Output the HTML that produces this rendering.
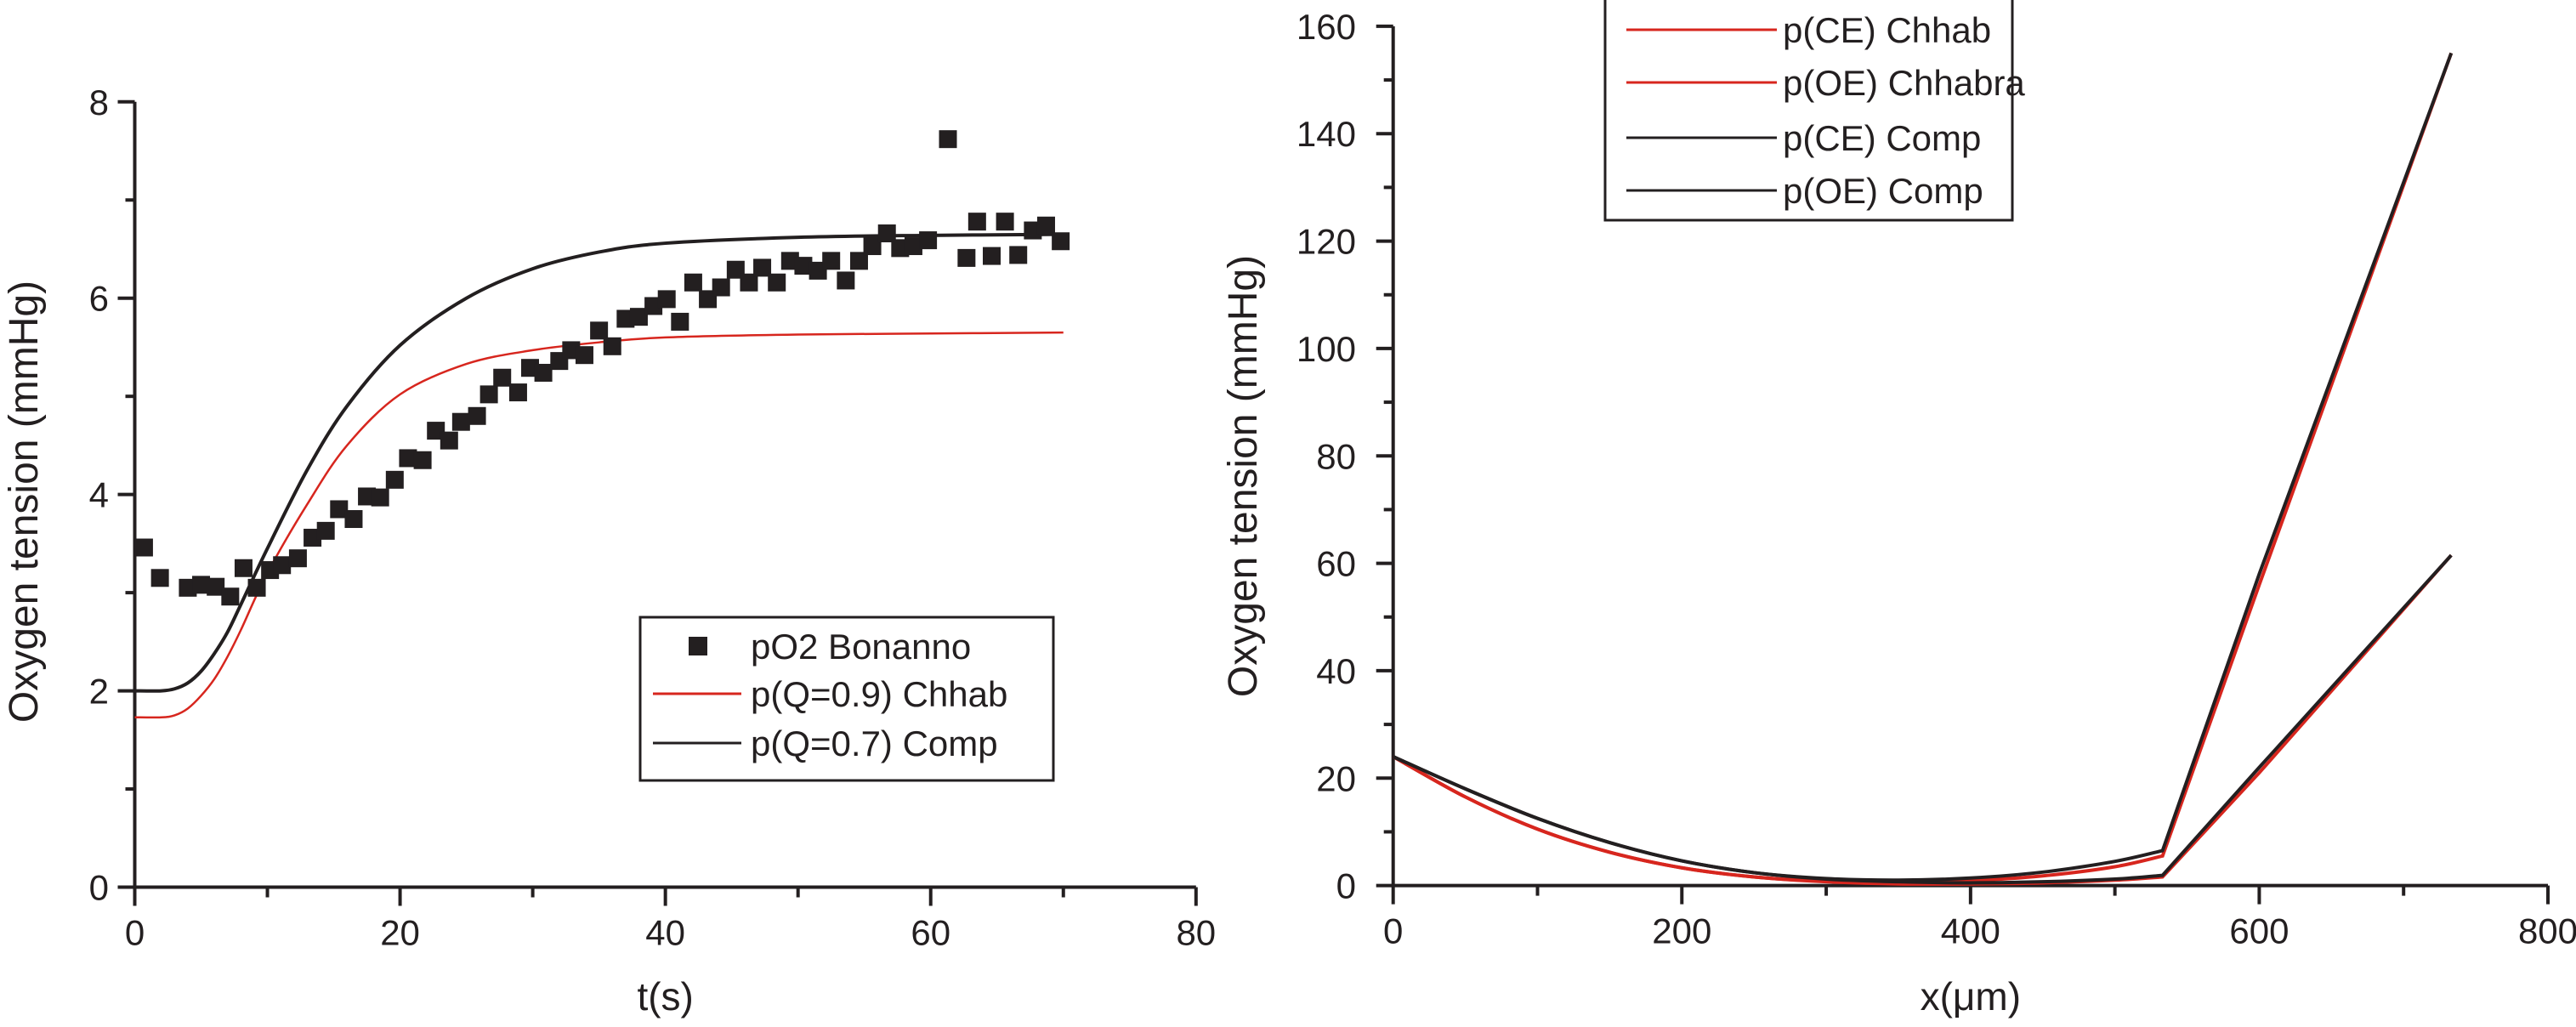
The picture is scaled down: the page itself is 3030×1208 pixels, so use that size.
<!DOCTYPE html>
<html><head><meta charset="utf-8"><style>
html,body{margin:0;padding:0;background:#fff}
svg{display:block}
text{font-family:"Liberation Sans",sans-serif;fill:#231f20}
</style></head><body>
<svg id="fig" width="3030" height="1208" viewBox="0 0 3030 1208" xmlns="http://www.w3.org/2000/svg">
<g id="left"></g>
<g id="right"></g>
</svg>
<script>
// ---- Left chart data ----
const leftXTicks = [0, 20, 40, 60, 80];
const leftYTicks = [0, 2, 4, 6, 8];
const bonT = [0.7,1.9,4.0,5.0,6.1,7.2,8.2,9.2,10.2,11.1,12.3,13.4,14.4,15.4,16.5,17.5,18.5,19.6,20.6,21.7,22.7,23.7,24.6,25.8,26.7,27.7,28.9,29.8,30.8,32.0,32.9,33.9,35.0,36.0,37.0,38.0,39.1,40.1,41.1,42.1,43.2,44.2,45.3,46.3,47.3,48.4,49.4,50.4,51.5,52.5,53.6,54.6,55.6,56.7,57.7,58.7,59.8,61.3,62.7,63.5,64.6,65.6,66.6,67.7,68.7,69.8];
const bonP = [3.46,3.15,3.05,3.08,3.06,2.96,3.25,3.05,3.23,3.28,3.35,3.56,3.63,3.85,3.75,3.98,3.97,4.15,4.37,4.35,4.65,4.55,4.74,4.80,5.02,5.19,5.04,5.29,5.24,5.36,5.47,5.42,5.67,5.51,5.79,5.81,5.92,5.99,5.76,6.16,5.99,6.11,6.29,6.16,6.31,6.16,6.38,6.33,6.28,6.38,6.18,6.38,6.53,6.66,6.51,6.53,6.59,7.62,6.41,6.78,6.43,6.78,6.44,6.69,6.74,6.58];
const compT = [0,2,3,4,5,6,7,8,10,13,16,20,25,30,35,40,50,60,70];
const compP = [2.0,2.0,2.02,2.08,2.2,2.38,2.6,2.88,3.45,4.25,4.9,5.52,6.0,6.3,6.47,6.56,6.62,6.64,6.65];
const chhT = [0,2,3,4,5,6,7,8,10,13,16,20,25,30,35,40,50,60,70];
const chhP = [1.73,1.73,1.75,1.82,1.95,2.12,2.35,2.62,3.2,3.9,4.5,5.02,5.33,5.47,5.55,5.6,5.63,5.64,5.65];

// ---- Right chart data ----
const rightXTicks = [0, 200, 400, 600, 800];
const rightYTicks = [0, 20, 40, 60, 80, 100, 120, 140, 160];
const ceChX = [0,50,100,150,200,250,300,350,400,450,500,533,600,733];
const ceChY = [24,16.5,10.5,6.2,3.3,1.6,0.8,0.6,0.9,1.8,3.5,5.5,56,155];
const oeChX = [0,50,100,150,200,250,300,350,400,450,500,533,600,733];
const oeChY = [24,16.5,10.5,6.2,3.3,1.6,0.7,0.3,0.3,0.5,1.0,1.6,21,61.5];
const ceCoX = [0,50,100,150,200,250,300,350,400,450,500,533,600,733];
const ceCoY = [24,18,12.5,8,4.6,2.4,1.3,1.0,1.4,2.5,4.5,6.5,58,155];
const oeCoX = [0,50,100,150,200,250,300,350,400,450,500,533,600,733];
const oeCoY = [24,18,12.5,8,4.6,2.4,1.2,0.7,0.5,0.7,1.2,1.9,22,61.5];

const NS = 'http://www.w3.org/2000/svg';
function mk(parent, tag, attrs, txt){
  const e = document.createElementNS(NS, tag);
  for (const k in attrs) e.setAttribute(k, attrs[k]);
  if (txt !== undefined) e.textContent = txt;
  parent.appendChild(e); return e;
}
function smoothPath(pts){
  let d = 'M' + pts[0][0] + ',' + pts[0][1];
  for (let i = 0; i < pts.length - 1; i++){
    const p0 = pts[i-1] || pts[i], p1 = pts[i], p2 = pts[i+1], p3 = pts[i+2] || p2;
    const c1 = [p1[0] + (p2[0]-p0[0])/6, p1[1] + (p2[1]-p0[1])/6];
    const c2 = [p2[0] - (p3[0]-p1[0])/6, p2[1] - (p3[1]-p1[1])/6];
    d += 'C' + c1 + ' ' + c2 + ' ' + p2;
  }
  return d;
}
function axes(g, X, Y, x0, x1, y0, y1, xt, yt, yLabX){
  const ax = mk(g, 'path', {d:'M'+X(x0)+','+Y(y1)+'V'+Y(y0)+'H'+X(x1), fill:'none', stroke:'#231f20','stroke-width':4});
  
  
  xt.forEach((v,i)=>{
    mk(g,'line',{x1:X(v),x2:X(v),y1:Y(y0),y2:Y(y0)+22,stroke:'#231f20','stroke-width':4});
    if (i < xt.length-1){ const m=(v+xt[i+1])/2; mk(g,'line',{x1:X(m),x2:X(m),y1:Y(y0),y2:Y(y0)+12,stroke:'#231f20','stroke-width':4}); }
    const t = mk(g,'text',{x:X(v),y:Y(y0)+68,'font-size':42,'text-anchor':'middle'}, String(v));
    
    
  });
  yt.forEach((v,i)=>{
    mk(g,'line',{x1:X(x0)-20,x2:X(x0),y1:Y(v),y2:Y(v),stroke:'#231f20','stroke-width':4});
    if (i < yt.length-1){ const m=(v+yt[i+1])/2; mk(g,'line',{x1:X(x0)-11,x2:X(x0),y1:Y(m),y2:Y(m),stroke:'#231f20','stroke-width':4}); }
    const t = mk(g,'text',{x:yLabX,y:Y(v)+15,'font-size':42,'text-anchor':'end'}, String(v));
    
    
  });
}

// ---- Left chart ----
(function(){
  const g = document.getElementById('left');
  const X = t => 158.5 + t*(1406.8-158.5)/80;
  const Y = p => 1043.5 - p*(1043.5-119.8)/8;
  axes(g, X, Y, 0, 80, 0, 8, leftXTicks, leftYTicks, 128);
  const tt = mk(g,'text',{x:X(40),y:1188,'font-size':46,'text-anchor':'middle'},'t(s)');
   
  const yt = mk(g,'text',{x:0,y:0,'font-size':48,'text-anchor':'middle',transform:'translate(44,590) rotate(-90)'},'Oxygen tension (mmHg)');
   
  const cb = mk(g,'path',{d:smoothPath(compT.map((t,i)=>[X(t),Y(compP[i])])),fill:'none',stroke:'#231f20','stroke-width':4});
   
  const cr = mk(g,'path',{d:smoothPath(chhT.map((t,i)=>[X(t),Y(chhP[i])])),fill:'none',stroke:'#d7261e','stroke-width':2.5});
   
  bonT.forEach((t,i)=>{
    const r = mk(g,'rect',{x:X(t)-10.5,y:Y(bonP[i])-10.5,width:21,height:21,fill:'#231f20'});
    
    
  });
  const lg = mk(g,'g',{});
   
  mk(lg,'rect',{x:753,y:726,width:486,height:192,fill:'#fff',stroke:'#231f20','stroke-width':3});
  mk(lg,'rect',{x:810,y:749,width:22,height:22,fill:'#231f20'});
  mk(lg,'text',{x:883,y:775,'font-size':42},'pO2 Bonanno');
  mk(lg,'line',{x1:768,x2:872,y1:816,y2:816,stroke:'#d7261e','stroke-width':3});
  mk(lg,'text',{x:883,y:831,'font-size':42},'p(Q=0.9) Chhab');
  mk(lg,'line',{x1:768,x2:872,y1:874,y2:874,stroke:'#231f20','stroke-width':3});
  mk(lg,'text',{x:883,y:889,'font-size':42},'p(Q=0.7) Comp');
})();

// ---- Right chart ----
(function(){
  const g = document.getElementById('right');
  const X = x => 1638.7 + x*(2997-1638.7)/800;
  const Y = p => 1041.6 - p*(1041.6-30.9)/160;
  axes(g, X, Y, 0, 800, 0, 160, rightXTicks, rightYTicks, 1595);
  const tt = mk(g,'text',{x:X(400),y:1188,'font-size':46,'text-anchor':'middle'},'x(\u03bcm)');
   
  const yt = mk(g,'text',{x:0,y:0,'font-size':48,'text-anchor':'middle',transform:'translate(1478,560) rotate(-90)'},'Oxygen tension (mmHg)');
   
  const series = [[oeChX,oeChY,'#d7261e','oe-chhabra-line'],[ceChX,ceChY,'#d7261e','ce-chhab-line'],[oeCoX,oeCoY,'#231f20','oe-comp-line'],[ceCoX,ceCoY,'#231f20','ce-comp-line']];
  series.forEach(s=>{
    const xs=s[0], ys=s[1];
    const smooth = smoothPath(xs.slice(0,12).map((x,i)=>[X(x),Y(ys[i])]));
    const d = smooth + 'L' + X(xs[12]) + ',' + Y(ys[12]) + 'L' + X(xs[13]) + ',' + Y(ys[13]);
    const p = mk(g,'path',{d:d,fill:'none',stroke:s[2],'stroke-width':4});
    
    
  });
  const lg = mk(g,'g',{});
   
  mk(lg,'rect',{x:1888,y:-2,width:479,height:261,fill:'#fff',stroke:'#231f20','stroke-width':3});
  const labs = ['p(CE) Chhab','p(OE) Chhabra','p(CE) Comp','p(OE) Comp'];
  const cols = ['#d7261e','#d7261e','#231f20','#231f20'];
  const rows = [35,97,162,224];
  labs.forEach((l,i)=>{
    mk(lg,'line',{x1:1913,x2:2090,y1:rows[i],y2:rows[i],stroke:cols[i],'stroke-width':3});
    mk(lg,'text',{x:2097,y:rows[i]+15,'font-size':42},l);
  });
})();
</script>
</body></html>
